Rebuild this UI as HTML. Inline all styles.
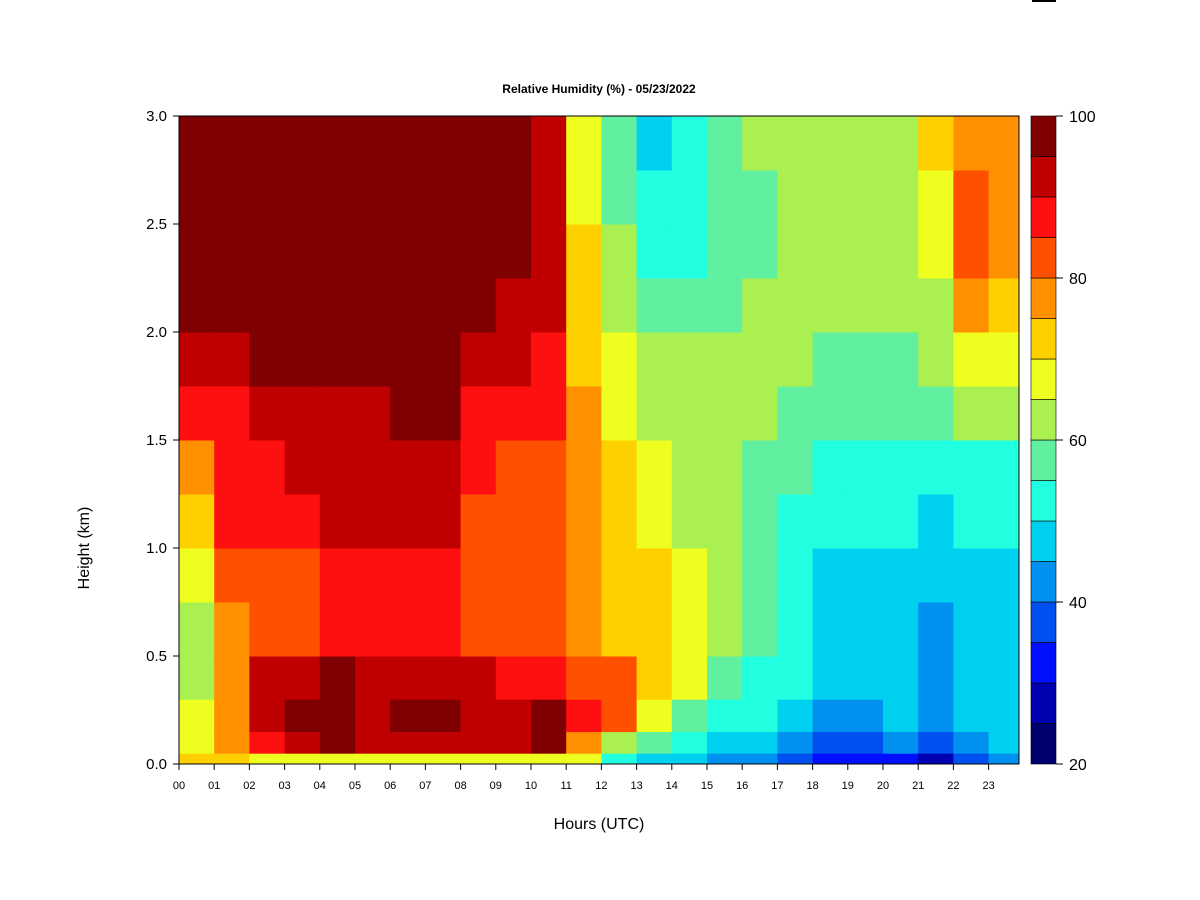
<!DOCTYPE html>
<html><head><meta charset="utf-8"><style>
body{margin:0;background:#fff;}
svg{display:block;font-family:"Liberation Sans",Arial,sans-serif;}
</style></head><body>
<svg id="chart" width="1200" height="900">
<rect x="0" y="0" width="1200" height="900" fill="#fff"/>
<line x1="1032" y1="1" x2="1056" y2="1" stroke="#000" stroke-width="2"/>
<text x="599" y="93" text-anchor="middle" font-size="12" font-weight="bold">Relative Humidity (%) - 05/23/2022</text>
<g id="cells"></g>
<rect x="179" y="116" width="840" height="648" fill="none" stroke="#000" stroke-width="1"/>
<g id="xaxis"></g>
<g id="yaxis"></g>
<g id="cbar"></g>
<text x="599" y="829" text-anchor="middle" font-size="16">Hours (UTC)</text>
<text x="0" y="0" transform="translate(89,548) rotate(-90)" text-anchor="middle" font-size="16">Height (km)</text>
</svg>
<script>
const hours=[0,1,2,3,4,5,6,7,8,9,10,11,12,13,14,15,16,17,18,19,20,21,22,23];
const heightEdges=[0,0.05,0.15,0.3,0.5,0.75,1.0,1.25,1.5,1.75,2.0,2.25,2.5,2.75,3.0];
const rh=[
[70,68,66,64,62,66,72,78,85,90,97,97,97,97],
[70,75,78,78,75,80,85,88,88,92,97,97,97,97],
[68,88,92,90,80,82,86,88,92,95,98,98,98,98],
[68,92,96,93,82,84,88,90,92,95,98,98,98,98],
[68,96,98,95,88,88,90,92,93,96,98,98,98,98],
[68,92,94,92,88,88,90,92,94,96,98,98,98,98],
[68,92,95,92,88,88,90,93,95,97,98,98,98,98],
[68,94,96,94,88,88,90,94,96,96,98,98,98,98],
[68,92,93,90,82,82,84,85,88,92,96,98,98,98],
[68,90,90,86,80,80,82,82,86,90,93,95,96,96],
[68,95,96,88,80,80,82,84,86,88,92,92,92,90],
[66,78,86,84,78,76,76,76,76,74,72,70,68,66],
[52,62,82,80,74,72,72,70,68,66,64,60,58,58],
[48,56,66,74,72,70,68,66,64,62,58,54,50,46],
[46,50,58,66,68,66,64,62,62,60,56,53,51,52],
[44,48,52,58,62,62,62,60,60,60,58,56,55,55],
[42,46,50,54,58,58,58,58,60,60,60,58,58,60],
[36,44,48,50,52,54,54,56,58,60,62,62,62,62],
[30,38,44,46,47,49,51,53,55,58,62,62,63,64],
[30,38,44,45,46,48,50,52,55,58,62,64,64,64],
[33,40,45,46,47,48,50,52,55,58,60,62,63,64],
[28,36,42,43,44,46,48,50,55,60,64,67,68,70],
[36,42,46,47,48,48,50,54,60,66,76,80,80,78],
[44,47,48,48,48,48,50,54,60,66,74,76,76,76]
];
const yTicks=[0,0.5,1.0,1.5,2.0,2.5,3.0];
const xTickLabels=["00","01","02","03","04","05","06","07","08","09","10","11","12","13","14","15","16","17","18","19","20","21","22","23"];
const cbTicks=[20,40,60,80,100];
const levelColors=["#000070","#0000B0","#0010FF","#0050F0","#0090F0","#00D0F0","#20FFE0","#60F0A0","#AAF050","#EEFF20","#FFD000","#FF9000","#FF5000","#FF1010","#C00000","#7F0000"];
const NS="http://www.w3.org/2000/svg";
const X0=179,X1=1019,Y0=764,Y1=116,HPX=35.2;
const xs=h=>X0+h*HPX;
const ys=k=>Y0-(k/3)*(Y0-Y1);
const cy=v=>764-(v-20)/80*648;
function col(v){let i=Math.floor((v-20)/5);i=Math.max(0,Math.min(15,i));return levelColors[i];}
const cells=document.getElementById('cells');
hours.forEach((h,i)=>{
  for(let j=0;j<heightEdges.length-1;j++){
    const r=document.createElementNS(NS,'rect');
    const xa=xs(h),xb=Math.min(xs(h+1),X1);
    r.setAttribute('x',xa);r.setAttribute('width',Math.max(0,xb-xa)+0.5);
    r.setAttribute('y',ys(heightEdges[j+1]));r.setAttribute('height',ys(heightEdges[j])-ys(heightEdges[j+1])+0.5);
    r.setAttribute('fill',col(rh[i][j]));
    
    
    cells.appendChild(r);
  }
});
const xa=document.getElementById('xaxis');
xTickLabels.forEach((l,i)=>{
  const x=xs(hours[i]);
  const t=document.createElementNS(NS,'line');
  t.setAttribute('x1',x);t.setAttribute('x2',x);t.setAttribute('y1',764);t.setAttribute('y2',770);t.setAttribute('stroke','#000');
  
  
  xa.appendChild(t);
  const tx=document.createElementNS(NS,'text');
  tx.setAttribute('x',x);tx.setAttribute('y',789);tx.setAttribute('text-anchor','middle');tx.setAttribute('font-size','11');tx.textContent=l;
  
  
  xa.appendChild(tx);
});
const ya=document.getElementById('yaxis');
yTicks.forEach(k=>{
  const y=ys(k);
  const t=document.createElementNS(NS,'line');
  t.setAttribute('x1',173);t.setAttribute('x2',179);t.setAttribute('y1',y);t.setAttribute('y2',y);t.setAttribute('stroke','#000');
  
  
  ya.appendChild(t);
  const tx=document.createElementNS(NS,'text');
  tx.setAttribute('x',167);tx.setAttribute('y',y+5);tx.setAttribute('text-anchor','end');tx.setAttribute('font-size','15');tx.textContent=k.toFixed(1);
  
  
  ya.appendChild(tx);
});
const cb=document.getElementById('cbar');
levelColors.forEach((c,i)=>{
  const lo=20+i*5;
  const r=document.createElementNS(NS,'rect');
  r.setAttribute('x',1031);r.setAttribute('width',25);r.setAttribute('y',cy(lo+5));r.setAttribute('height',cy(lo)-cy(lo+5));
  r.setAttribute('fill',c);r.setAttribute('stroke','#000');r.setAttribute('stroke-width','0.6');
  
  
  cb.appendChild(r);
});
cbTicks.forEach(v=>{
  const y=cy(v);
  const t=document.createElementNS(NS,'line');
  t.setAttribute('x1',1056);t.setAttribute('x2',1063);t.setAttribute('y1',y);t.setAttribute('y2',y);t.setAttribute('stroke','#000');
  
  
  cb.appendChild(t);
  const tx=document.createElementNS(NS,'text');
  tx.setAttribute('x',1069);tx.setAttribute('y',y+6);tx.setAttribute('font-size','16');tx.textContent=v;
  
  
  cb.appendChild(tx);
});
</script>
</body></html>
